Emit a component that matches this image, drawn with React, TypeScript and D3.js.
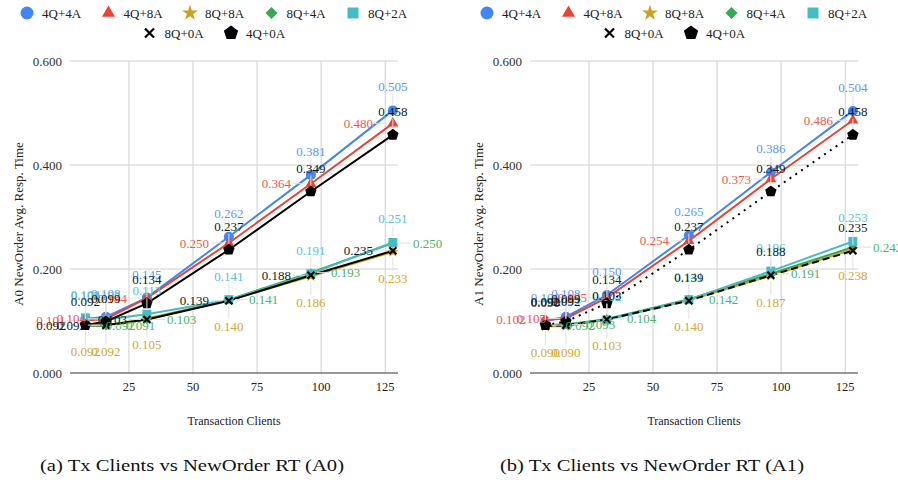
import React from 'react';
import * as d3 from 'd3';

// transaction clients on the x axis
const clients = [8, 16, 32, 64, 96, 128];
const seriesNames = ['4Q+4A', '4Q+8A', '8Q+8A', '8Q+4A', '8Q+2A', '8Q+0A', '4Q+0A'];
const yTicks = [0, 0.2, 0.4, 0.6];
const xTicks = [25, 50, 75, 100, 125];

// A0 NewOrder avg. response time
const a0_4q4a = [0.104, 0.108, 0.145, 0.262, 0.381, 0.505];
const a0_4q8a = [0.101, 0.104, 0.144, 0.25, 0.364, 0.48];
const a0_8q8a = [0.092, 0.092, 0.105, 0.14, 0.186, 0.233];
const a0_8q4a = [0.092, 0.091, 0.103, 0.141, 0.193, 0.25];
const a0_8q2a = [0.106, 0.103, 0.113, 0.141, 0.191, 0.251];
const a0_8q0a = [0.092, 0.092, 0.103, 0.139, 0.188, 0.235];
const a0_4q0a = [0.092, 0.099, 0.134, 0.237, 0.349, 0.458];

// A1 NewOrder avg. response time
const a1_4q4a = [0.1, 0.108, 0.15, 0.265, 0.386, 0.504];
const a1_4q8a = [0.102, 0.105, 0.145, 0.254, 0.373, 0.486];
const a1_8q8a = [0.09, 0.09, 0.103, 0.14, 0.187, 0.238];
const a1_8q4a = [0.092, 0.093, 0.104, 0.142, 0.191, 0.242];
const a1_8q2a = [0.092, 0.094, 0.102, 0.141, 0.196, 0.253];
const a1_8q0a = [0.09, 0.092, 0.103, 0.139, 0.188, 0.235];
const a1_4q0a = [0.092, 0.099, 0.134, 0.237, 0.349, 0.458];

const colors = ['#4285f4', '#ea4335', '#cfa01e', '#34a853', '#46bdc6', '#000000', '#000000'];
const labelColors = ['#5f97f6', '#ec5a4d', '#d4a732', '#4db466', '#58c4cc', '#1a1a1a', '#1a1a1a'];
const shapes = ['circle', 'triangle', 'star', 'diamond', 'square', 'cross', 'pentagon'];

const FONT = '"Liberation Serif", "Times New Roman", serif';
const L = 70, R = 398, T = 61, B = 373;

function pentagon(r: number) {
  const pts = d3.range(5).map(i => {
    const a = -Math.PI / 2 + (i * 2 * Math.PI) / 5;
    return [r * Math.cos(a), r * Math.sin(a)];
  });
  return 'M' + pts.map(p => p.join(',')).join('L') + 'Z';
}

function Marker({ shape, cx, cy, s, color }: any) {
  const tr = `translate(${cx},${cy})`;
  if (shape === 'cross') {
    const h = s / 2;
    return <path transform={tr} d={`M${-h},${-h}L${h},${h}M${-h},${h}L${h},${-h}`} stroke={color} strokeWidth={2.2} fill="none" />;
  }
  if (shape === 'pentagon') return <path transform={tr} d={pentagon(s / 2 + 0.5)} fill={color} />;
  let d = '';
  if (shape === 'circle') d = d3.symbol(d3.symbolCircle, Math.PI * (s / 2) ** 2)() as string;
  if (shape === 'triangle') d = d3.symbol(d3.symbolTriangle, (Math.sqrt(3) / 4) * s * s)() as string;
  if (shape === 'star') d = d3.symbol(d3.symbolStar, s * s * 0.35)() as string;
  if (shape === 'square') d = d3.symbol(d3.symbolSquare, s * s)() as string;
  if (shape === 'diamond') return <path transform={tr + ' rotate(45)'} d={d3.symbol(d3.symbolSquare, (s * s) / 2)() as string} fill={color} />;
  return <path transform={tr} d={d} fill={color} />;
}

const plotSize: any = { circle: 10, triangle: 11, star: 11, diamond: 9, square: 9, cross: 7, pentagon: 11 };
const legendSize: any = { circle: 13, triangle: 13, star: 15, diamond: 12, square: 11, cross: 9, pentagon: 14 };

function Panel({ dx, data, labelPos, dashes, yTitle, caption }: any) {
  const x = d3.scaleLinear().domain([2, 130]).range([L + dx, R + dx]);
  const y = d3.scaleLinear().domain([0, 0.6]).range([B, T]);
  const line = d3.line<number>().x((_, i) => x(clients[i])).y(d => y(d));
  const fmt = d3.format('.3f');

  return (
    <g fontFamily={FONT}>
      {/* legend */}
      {seriesNames.map((name, i) => {
        const row = i < 5 ? 0 : 1;
        const lx = dx + (row === 0 ? 27 + i * 81.5 : 149.5 + (i - 5) * 81.5);
        const ly = row === 0 ? 13 : 33;
        return (
          <g key={name}>
            <Marker shape={shapes[i]} cx={lx} cy={ly} s={legendSize[shapes[i]]} color={colors[i]} />
            <text x={lx + 15} y={ly + 4.5} fontSize={13} fill="#222">{name}</text>
          </g>
        );
      })}

      {/* grid */}
      {yTicks.map(t => (
        <g key={t}>
          {t > 0 && <line x1={L + dx} x2={R + dx} y1={y(t)} y2={y(t)} stroke="#d0d0d0" />}
          <text x={62 + dx} y={y(t) + 4.5} textAnchor="end" fontSize={13} fill="#333">{fmt(t)}</text>
        </g>
      ))}
      {xTicks.map(t => (
        <g key={t}>
          <line x1={x(t)} x2={x(t)} y1={T} y2={B} stroke="#d0d0d0" />
          <text x={x(t)} y={391} textAnchor="middle" fontSize={12.5} fill="#222">{t}</text>
        </g>
      ))}
      <line x1={L + dx} x2={R + dx} y1={B} y2={B} stroke="#333" strokeWidth={1.2} />

      {/* lines */}
      {data.map((vals: number[], i: number) => (
        <path key={i} d={line(vals) as string} fill="none" stroke={colors[i]} strokeWidth={2}
          strokeDasharray={dashes[i] || undefined} />
      ))}
      {/* markers */}
      {data.map((vals: number[], i: number) => vals.map((v, j) => (
        <Marker key={i + '-' + j} shape={shapes[i]} cx={x(clients[j])} cy={y(v)} s={plotSize[shapes[i]]} color={colors[i]} />
      )))}
      {/* data labels with leader lines */}
      {data.map((vals: number[], i: number) => vals.map((v, j) => {
        const px = x(clients[j]), py = y(v);
        const pos = labelPos[i];
        let tx = px, ty = py + 4.5, anchor = 'middle';
        let lx1 = px, ly1 = py, lx2 = px, ly2 = py;
        if (pos === 'above') { ty = py - 19; ly1 = py - 6; ly2 = py - 16; }
        if (pos === 'below') { ty = py + 31; ly1 = py + 6; ly2 = py + 19; }
        if (pos === 'left') { tx = px - 20; anchor = 'end'; lx1 = px - 6; lx2 = px - 18; }
        if (pos === 'right') { tx = px + 20; anchor = 'start'; lx1 = px + 6; lx2 = px + 18; }
        return (
          <g key={'l' + i + '-' + j}>
            <line x1={lx1} y1={ly1} x2={lx2} y2={ly2} stroke="#e0e0e0" />
            <text x={tx} y={ty} textAnchor={anchor} fontSize={13} fill={labelColors[i]}>{fmt(v)}</text>
          </g>
        );
      }))}

      {/* axis titles */}
      <text transform={`translate(${23 + dx},224) rotate(-90)`} textAnchor="middle" fontSize={13} fill="#222">{yTitle}</text>
      <text x={(L + R) / 2 + dx} y={425} textAnchor="middle" fontSize={12} fill="#222">Transaction Clients</text>
      <text x={192 + dx} y={471} textAnchor="middle" fontSize={17} fill="#111" textLength={304} lengthAdjust="spacingAndGlyphs">{caption}</text>
    </g>
  );
}

export default function App() {
  const a0 = [a0_4q4a, a0_4q8a, a0_8q8a, a0_8q4a, a0_8q2a, a0_8q0a, a0_4q0a];
  const a1 = [a1_4q4a, a1_4q8a, a1_8q8a, a1_8q4a, a1_8q2a, a1_8q0a, a1_4q0a];
  return (
    <svg width={898} height={491} style={{ position: 'absolute', left: 0, top: 0, background: '#fff' }}>
      <rect width={898} height={491} fill="#fff" />
      <Panel dx={0} data={a0}
        labelPos={['above', 'left', 'below', 'right', 'above', 'left', 'above']}
        dashes={[null, null, null, null, null, null, null]}
        yTitle="A0 NewOrder Avg. Resp. Time" caption="(a) Tx Clients vs NewOrder RT (A0)" />
      <Panel dx={460} data={a1}
        labelPos={['above', 'left', 'below', 'right', 'above', 'above', 'above']}
        dashes={[null, null, null, null, null, '7,4', '2,5']}
        yTitle="A1 NewOrder Avg. Resp. Time" caption="(b) Tx Clients vs NewOrder RT (A1)" />
    </svg>
  );
}
